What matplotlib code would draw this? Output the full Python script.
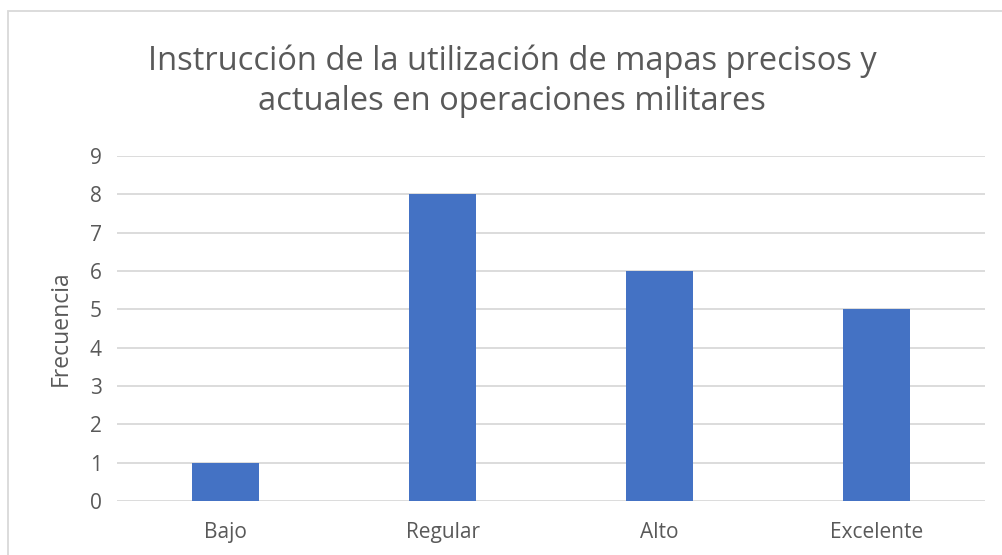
import matplotlib
matplotlib.use("Agg")
import matplotlib.pyplot as plt
from matplotlib.patches import Rectangle

categorias = ["Bajo", "Regular", "Alto", "Excelente"]
frecuencia = [1, 8, 6, 5]
titulo = "Instrucción de la utilización de mapas precisos y\nactuales en operaciones militares"

plt.rcParams['font.family'] = ['Open Sans', 'DejaVu Sans']
gris = '#595959'

W, H = 1002, 555
fig = plt.figure(figsize=(W / 100, H / 100), dpi=100)

# chart area border
fig.patches.append(Rectangle((8 / W, -0.1), 1.2, (H - 11) / H + 0.1,
                             transform=fig.transFigure, fill=False,
                             edgecolor='#d9d9d9', linewidth=1.3))

ax = fig.add_axes([117 / W, (H - 501) / H, (985 - 117) / W, (501 - 156) / H])
ax.bar(range(len(categorias)), frecuencia, width=0.31, color='#4472c4', zorder=3)

ax.set_xlim(-0.5, len(categorias) - 0.5)
ax.set_ylim(0, 9)
ax.set_yticks(range(10))
ax.set_xticks(range(len(categorias)))
ax.set_xticklabels(categorias)
ax.grid(axis='y', color='#d9d9d9', linewidth=1.3, zorder=0)
for s in ax.spines.values():
    s.set_visible(False)
ax.tick_params(length=0, labelsize=15, labelcolor=gris)
ax.tick_params(axis='y', pad=11)
ax.tick_params(axis='x', pad=15)
ax.set_ylabel("Frecuencia", fontsize=16.5, color=gris, labelpad=12)

fig.text(512 / W, 1 - 81 / H, titulo, ha='center', va='center',
         fontsize=23.5, color=gris, linespacing=1.3)

fig.savefig("out.png", dpi=100)
